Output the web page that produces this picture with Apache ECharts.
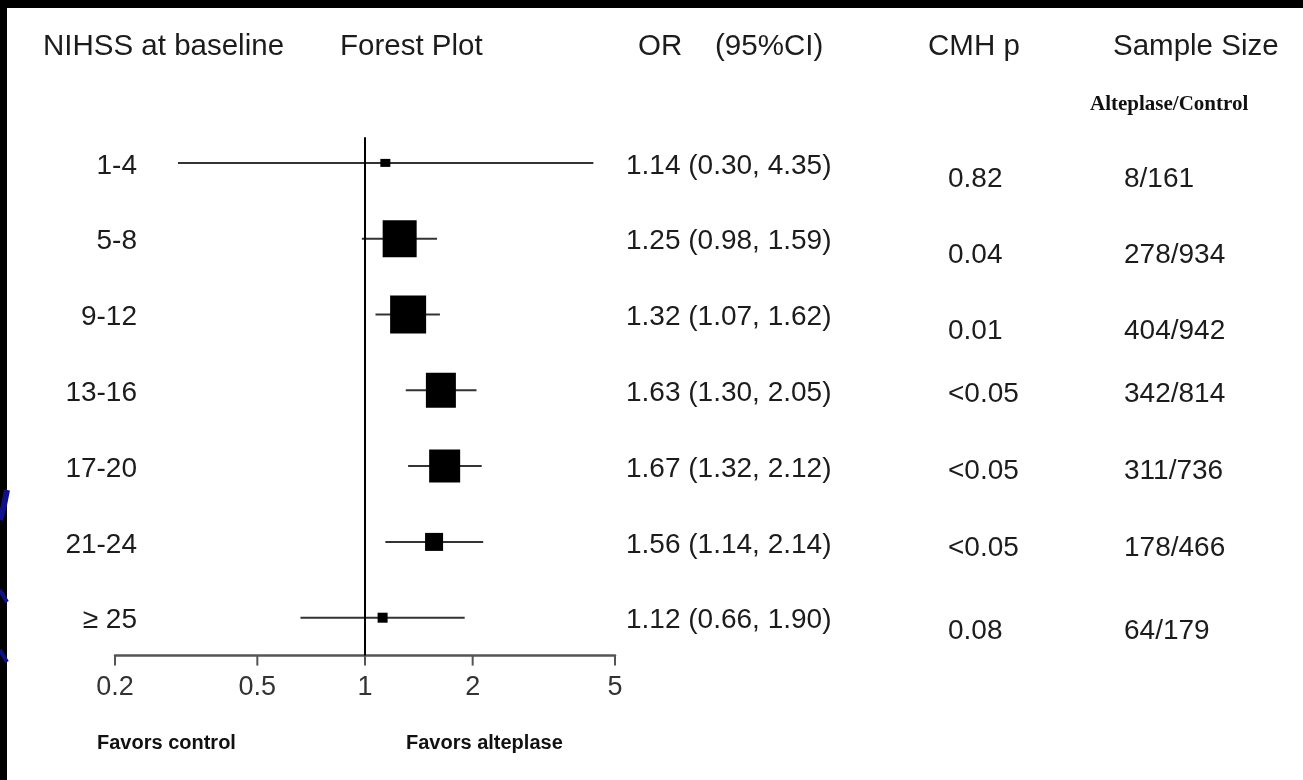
<!DOCTYPE html>
<html>
<head>
<meta charset="utf-8">
<script src="https://cdn.jsdelivr.net/npm/echarts@6/dist/echarts.min.js"></script>
<style>
  html, body { margin: 0; padding: 0; background: #000; }
  #chart { width: 1303px; height: 780px; }
</style>
</head>
<body>
<div id="chart"></div>
<script>
// ---------------- data ----------------
const groups = ['1-4', '5-8', '9-12', '13-16', '17-20', '21-24', '≥ 25'];
const orValue = [1.14, 1.25, 1.32, 1.63, 1.67, 1.56, 1.12];
const ciLow = [0.30, 0.98, 1.07, 1.30, 1.32, 1.14, 0.66];
const ciHigh = [4.35, 1.59, 1.62, 2.05, 2.12, 2.14, 1.90];
const orText = ['1.14 (0.30, 4.35)', '1.25 (0.98, 1.59)', '1.32 (1.07, 1.62)',
                '1.63 (1.30, 2.05)', '1.67 (1.32, 2.12)', '1.56 (1.14, 2.14)', '1.12 (0.66, 1.90)'];
const cmhP = ['0.82', '0.04', '0.01', '<0.05', '<0.05', '<0.05', '0.08'];
const sampleSize = ['8/161', '278/934', '404/942', '342/814', '311/736', '178/466', '64/179'];
const tickValues = [0.2, 0.5, 1, 2, 5];
const tickLabels = ['0.2', '0.5', '1', '2', '5'];
const refValue = 1;
const headers = ['NIHSS at baseline', 'Forest Plot', 'OR    (95%CI)', 'CMH p', 'Sample Size'];
const subHeader = 'Alteplase/Control';
const favorLabels = ['Favors control', 'Favors alteplase'];

// ---------------- styling (sizes / nudges) ----------------
const boxW = [10, 34, 36, 30, 31, 18, 10];
const boxH = [8, 37, 38, 35, 33, 18, 10];
const rightNudge = [2, 3, 3, -9, -8, -6, 1];

const rowY = groups.map((g, i) => i + 0.5);
const FONT = '"Liberation Sans", Arial, sans-serif';
const TXT = '#1c1c1c';

const chart = echarts.init(document.getElementById('chart'), null, { renderer: 'canvas' });

function textCol(gridIndex, values, pos, nudge) {
  return {
    type: 'scatter', xAxisIndex: gridIndex, yAxisIndex: gridIndex,
    symbolSize: 0, silent: true,
    itemStyle: { opacity: 1 },
    data: values.map((v, i) => ({ value: [0, rowY[i]], name: v })),
    label: {
      show: true, position: pos, distance: 0,
      formatter: p => p.name,
      fontFamily: FONT, fontSize: 28, color: TXT, opacity: 1
    },
    labelLayout: p => ({ dy: nudge ? nudge[p.dataIndex] : 3 })
  };
}

const gridTop = 125, rowH = 75.8;
const rGridTop = 139.3, rRowH = 75.5;

const grids = [
  { left: 115, width: 500, top: gridTop, height: rowH * 7 },         // forest
  { left: 137, width: 10, top: gridTop, height: rowH * 7 },          // row labels (right aligned)
  { left: 626, width: 10, top: gridTop, height: rowH * 7 },          // OR text
  { left: 948, width: 10, top: rGridTop, height: rRowH * 7 },        // CMH p
  { left: 1124, width: 10, top: rGridTop, height: rRowH * 7 }        // sample size
];

const xAxes = [
  { type: 'log', logBase: 10, min: 0.2, max: 5, gridIndex: 0, position: 'bottom',
    axisLine: { show: true, onZero: false, lineStyle: { color: '#555', width: 2.5 } },
    axisTick: { show: false }, axisLabel: { show: false }, splitLine: { show: false } }
];
const yAxes = [
  { type: 'value', min: 0, max: 7, inverse: true, gridIndex: 0, show: false }
];
for (let g = 1; g < grids.length; g++) {
  xAxes.push({ type: 'value', min: 0, max: 1, gridIndex: g, show: false });
  yAxes.push({ type: 'value', min: 0, max: 7, inverse: true, gridIndex: g, show: false });
}

const headerX = [43, 340, 638, 928, 1113];

const option = {
  backgroundColor: '#000',
  animation: false,
  grid: grids,
  xAxis: xAxes,
  yAxis: yAxes,
  graphic: [
    { type: 'rect', z: -100, silent: true, shape: { x: 7, y: 8, width: 1296, height: 772 }, style: { fill: '#fff' } },
    // decorative blue arcs on the left slide edge
    { type: 'polyline', silent: true, shape: { points: [[0, 520], [4, 505], [7, 490]] }, style: { stroke: '#10108a', lineWidth: 6 } },
    { type: 'polyline', silent: true, shape: { points: [[0, 590], [7, 602]] }, style: { stroke: '#10108a', lineWidth: 4 } },
    { type: 'polyline', silent: true, shape: { points: [[0, 650], [7, 662]] }, style: { stroke: '#10108a', lineWidth: 4 } },
    ...headers.map((h, i) => ({
      type: 'text', left: headerX[i], top: 32, silent: true,
      style: { text: h, font: '29.5px ' + FONT, fill: TXT }
    })),
    { type: 'text', left: 1090, top: 94, silent: true,
      style: { text: subHeader, font: 'bold 21px "Liberation Serif", "Times New Roman", serif', fill: '#111' } },
    { type: 'text', left: 97, top: 733, silent: true,
      style: { text: favorLabels[0], font: 'bold 20px ' + FONT, fill: '#111' } },
    { type: 'text', left: 406, top: 733, silent: true,
      style: { text: favorLabels[1], font: 'bold 20px ' + FONT, fill: '#111' } }
  ],
  series: [
    // reference line at OR = 1
    { type: 'line', xAxisIndex: 0, yAxisIndex: 0, symbol: 'none', silent: true,
      data: [[refValue, 0.16], [refValue, 7]],
      lineStyle: { color: '#000', width: 2 }, z: 3 },
    // confidence interval lines
    { type: 'custom', xAxisIndex: 0, yAxisIndex: 0, silent: true, z: 2,
      data: groups.map((g, i) => [ciLow[i], ciHigh[i], rowY[i]]),
      renderItem: (params, api) => {
        const a = api.coord([api.value(0), api.value(2)]);
        const b = api.coord([api.value(1), api.value(2)]);
        return { type: 'line', shape: { x1: a[0], y1: a[1], x2: b[0], y2: b[1] },
                 style: { stroke: '#333', lineWidth: 2 } };
      } },
    // OR boxes
    { type: 'scatter', xAxisIndex: 0, yAxisIndex: 0, silent: true, z: 5,
      symbol: 'rect',
      data: groups.map((g, i) => [orValue[i], rowY[i]]),
      symbolSize: (val, p) => [boxW[p.dataIndex], boxH[p.dataIndex]],
      itemStyle: { color: '#000', opacity: 1 } },
    // axis ticks and tick labels (log scale)
    { type: 'custom', xAxisIndex: 0, yAxisIndex: 0, silent: true, clip: false,
      data: tickValues.map((v, i) => [v, 7, i]),
      renderItem: (params, api) => {
        const p = api.coord([api.value(0), api.value(1)]);
        return { type: 'group', children: [
          { type: 'line', shape: { x1: p[0], y1: p[1], x2: p[0], y2: p[1] + 10 },
            style: { stroke: '#555', lineWidth: 2 } },
          { type: 'text', x: p[0], y: p[1] + 32,
            style: { text: tickLabels[api.value(2)], font: '27px ' + FONT, fill: '#333',
                     align: 'center', verticalAlign: 'middle' } }
        ] };
      } },
    textCol(1, groups, 'left', null),
    textCol(2, orText, 'right', null),
    textCol(3, cmhP, 'right', rightNudge),
    textCol(4, sampleSize, 'right', rightNudge)
  ]
};
chart.setOption(option);
</script>
</body>
</html>
